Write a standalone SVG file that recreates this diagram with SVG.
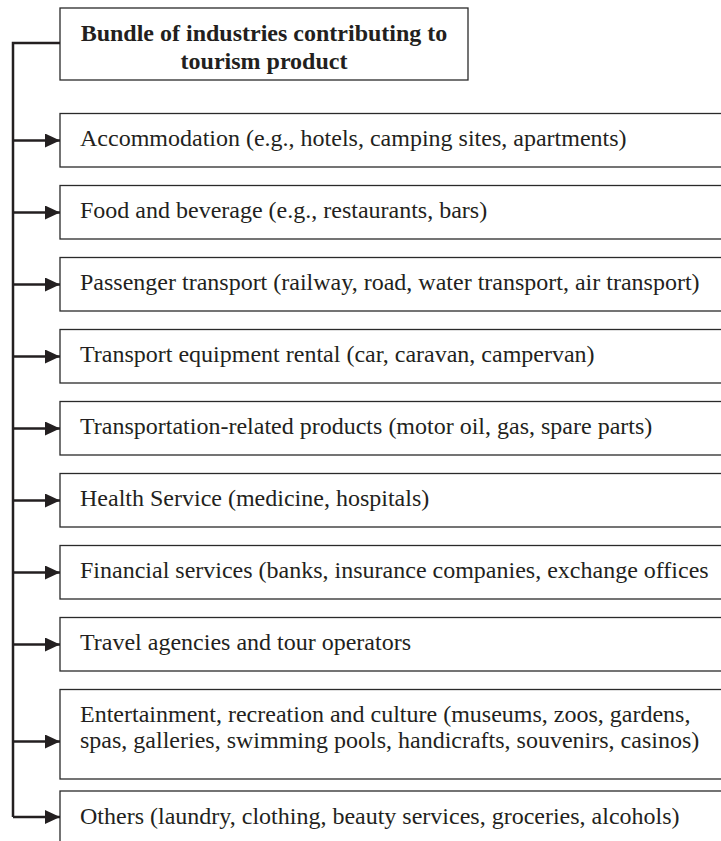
<svg xmlns="http://www.w3.org/2000/svg" width="721" height="841" viewBox="0 0 721 841">
<style>
.box{fill:#fff;stroke:#2a2a2a;stroke-width:1.3}
.t{font-family:"Liberation Serif","Times New Roman",serif;font-size:24px;fill:#231f20}
.tb{font-family:"Liberation Serif","Times New Roman",serif;font-size:24px;font-weight:bold;fill:#231f20;text-anchor:middle}
.conn{stroke:#231f20;stroke-width:2.5;fill:none}
</style>
<defs>
<marker id="ah" markerUnits="userSpaceOnUse" markerWidth="16" markerHeight="16" refX="15" refY="7" orient="auto">
<path d="M0,0 L15,7 L0,14 z" fill="#231f20"/>
</marker>
</defs>
<rect width="721" height="841" fill="#fff"/>
<g id="title">
<rect class="box" x="60" y="8" width="408" height="72"/>
<text class="tb" x="264" y="41">Bundle of industries contributing to</text>
<text class="tb" x="264" y="69">tourism product</text>
</g>
<g id="n1"><rect class="box" x="60" y="113.5" width="680" height="53.5"/><text class="t" x="80" y="146">Accommodation (e.g., hotels, camping sites, apartments)</text></g>
<g id="n2"><rect class="box" x="60" y="185.5" width="680" height="53.5"/><text class="t" x="80" y="218">Food and beverage (e.g., restaurants, bars)</text></g>
<g id="n3"><rect class="box" x="60" y="257.5" width="680" height="53.5"/><text class="t" x="80" y="290">Passenger transport (railway, road, water transport, air transport)</text></g>
<g id="n4"><rect class="box" x="60" y="329.5" width="680" height="53.5"/><text class="t" x="80" y="362">Transport equipment rental (car, caravan, campervan)</text></g>
<g id="n5"><rect class="box" x="60" y="401.5" width="680" height="53.5"/><text class="t" x="80" y="434">Transportation-related products (motor oil, gas, spare parts)</text></g>
<g id="n6"><rect class="box" x="60" y="473.5" width="680" height="53.5"/><text class="t" x="80" y="506">Health Service (medicine, hospitals)</text></g>
<g id="n7"><rect class="box" x="60" y="545.5" width="680" height="53.5"/><text class="t" x="80" y="578">Financial services (banks, insurance companies, exchange offices</text></g>
<g id="n8"><rect class="box" x="60" y="617.5" width="680" height="53.5"/><text class="t" x="80" y="650">Travel agencies and tour operators</text></g>
<g id="n9"><rect class="box" x="60" y="689.5" width="680" height="89.5"/><text class="t" x="80" y="722">Entertainment, recreation and culture (museums, zoos, gardens,</text><text class="t" x="80" y="748">spas, galleries, swimming pools, handicrafts, souvenirs, casinos)</text></g>
<g id="n10"><rect class="box" x="60" y="791" width="680" height="80"/><text class="t" x="80" y="823.5">Others (laundry, clothing, beauty services, groceries, alcohols)</text></g>
<g id="connectors">
<path class="conn" d="M60,43 H13 V817"/>
<line class="conn" x1="13" y1="140.5" x2="60" y2="140.5" marker-end="url(#ah)"/>
<line class="conn" x1="13" y1="212.5" x2="60" y2="212.5" marker-end="url(#ah)"/>
<line class="conn" x1="13" y1="284.5" x2="60" y2="284.5" marker-end="url(#ah)"/>
<line class="conn" x1="13" y1="356.5" x2="60" y2="356.5" marker-end="url(#ah)"/>
<line class="conn" x1="13" y1="428.5" x2="60" y2="428.5" marker-end="url(#ah)"/>
<line class="conn" x1="13" y1="500.5" x2="60" y2="500.5" marker-end="url(#ah)"/>
<line class="conn" x1="13" y1="572.5" x2="60" y2="572.5" marker-end="url(#ah)"/>
<line class="conn" x1="13" y1="644.5" x2="60" y2="644.5" marker-end="url(#ah)"/>
<line class="conn" x1="13" y1="741.5" x2="60" y2="741.5" marker-end="url(#ah)"/>
<line class="conn" x1="13" y1="817" x2="60" y2="817" marker-end="url(#ah)"/>
</g>
</svg>
